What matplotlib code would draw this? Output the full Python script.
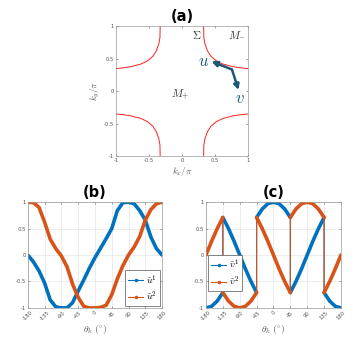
import matplotlib
matplotlib.use('Agg')
import matplotlib.pyplot as plt
from matplotlib.lines import Line2D
import numpy as np

plt.rcParams['mathtext.fontset'] = 'cm'
plt.rcParams['font.family'] = 'DejaVu Sans'

# ---- data ----
# (a) Fermi surface branch in the upper-right quadrant
fs_kx = [0.33, 0.333, 0.35, 0.39, 0.44, 0.52, 0.62, 0.77, 0.90, 1.00]
fs_ky = [1.00, 0.83, 0.73, 0.62, 0.54, 0.47, 0.42, 0.38, 0.36, 0.35]
arrow_origin = (0.76, 0.335)
arrow_u_tip = (0.45, 0.46)
arrow_v_tip = (0.86, 0.02)

# (b) u components vs theta_k
theta_b = [-180, -165, -150, -135, -120, -105, -90, -75, -60, -45, -30, -15, 0,
           15, 30, 45, 60, 75, 90, 105, 120, 135, 150, 165, 180]
u1 = [0, -0.13, -0.30, -0.53, -0.85, -0.98, -1.0, -1.0, -0.90, -0.68, -0.47, -0.25, -0.05,
      0.13, 0.31, 0.50, 0.84, 0.99, 1.0, 0.97, 0.84, 0.66, 0.34, 0.12, 0]
u2 = [1.0, 0.99, 0.90, 0.62, 0.30, 0.12, -0.02, -0.22, -0.55, -0.80, -0.97, -1.0, -1.0,
      -0.99, -0.95, -0.75, -0.45, -0.20, 0.0, 0.15, 0.35, 0.66, 0.86, 0.97, 1.0]

# (c) v components vs theta_k (jumps at +-45, +-135)
theta_c = [-180, -165, -150, -135, -135, -120, -105, -90, -75, -60, -45, -45, -30, -15, 0,
           15, 30, 45, 45, 60, 75, 90, 105, 120, 135, 135, 150, 165, 180]
v1 = [-1, -0.97, -0.87, -0.71, 0.71, 0.5, 0.26, 0, -0.26, -0.5, -0.71, 0.71, 0.87, 0.97, 1,
      0.97, 0.87, 0.71, -0.71, -0.5, -0.26, 0, 0.26, 0.5, 0.71, -0.71, -0.87, -0.97, -1]
v2 = [0, 0.26, 0.5, 0.71, -0.71, -0.87, -0.97, -1, -0.97, -0.87, -0.71, 0.71, 0.5, 0.26, 0,
      -0.26, -0.5, -0.71, 0.71, 0.87, 0.97, 1, 0.97, 0.87, 0.71, -0.71, -0.5, -0.26, 0]

theta_ticks = [-180, -135, -90, -45, 0, 45, 90, 135, 180]
blue = '#0072BD'
orange = '#D95319'
teal = '#1d5878'

fig = plt.figure(figsize=(3.57, 3.38), dpi=100)


def style_box(ax):
    for s in ax.spines.values():
        s.set_color('#9a9a9a')
        s.set_linewidth(0.5)
    ax.tick_params(direction='in', length=1.5, width=0.4, labelsize=3.8,
                   colors='#555555', pad=1.5, top=True, right=True,
                   labeltop=False, labelright=False)


# ---- (a) ----
ax1 = fig.add_axes([0.325, 0.538, 0.369, 0.384])
kx = np.array(fs_kx)
ky = np.array(fs_ky)
for sx in (1, -1):
    for sy in (1, -1):
        ax1.plot(sx * kx, sy * ky, color='#ff2020', lw=0.7)
ax1.set_xlim(-1, 1)
ax1.set_ylim(-1, 1)
ax1.set_xticks([-1, -0.5, 0, 0.5, 1])
ax1.set_yticks([-1, -0.5, 0, 0.5, 1])
ax1.set_xticklabels(['-1', '-0.5', '0', '0.5', '1'])
ax1.set_yticklabels(['-1', '-0.5', '0', '0.5', '1'])
style_box(ax1)
ax1.set_xlabel(r'$k_x/\pi$', fontsize=6.5, color='#555555', labelpad=1)
ax1.set_ylabel(r'$k_y/\pi$', fontsize=6.5, color='#555555', labelpad=1)
ax1.set_title('(a)', fontsize=10.5, fontweight='bold', pad=4)
ax1.text(0.22, 0.87, r'$\Sigma$', fontsize=8, color='#333333', ha='center', va='center')
ax1.text(0.84, 0.87, r'$M_{-}$', fontsize=8, color='#333333', ha='center', va='center')
ax1.text(-0.03, -0.05, r'$M_{+}$', fontsize=8, color='#333333', ha='center', va='center')
for tip in (arrow_u_tip, arrow_v_tip):
    ax1.annotate('', xy=tip, xytext=arrow_origin,
                 arrowprops=dict(arrowstyle='-|>', color=teal, lw=1.8,
                                 mutation_scale=8, shrinkA=0, shrinkB=0))
ax1.text(0.33, 0.46, r'$u$', fontsize=12, color=teal, ha='center', va='center')
ax1.text(0.885, -0.11, r'$v$', fontsize=12, color=teal, ha='center', va='center')


def thick_segments(ax, x, y, color):
    x = np.array(x, dtype=float)
    y = np.array(y, dtype=float)
    xs, ys = [x[0]], [y[0]]
    for i in range(1, len(x)):
        if x[i] == x[i - 1]:
            xs.append(np.nan)
            ys.append(np.nan)
        xs.append(x[i])
        ys.append(y[i])
    ax.plot(xs, ys, color=color, lw=2.6, solid_capstyle='round',
            solid_joinstyle='round')
    ax.plot(x, y, color=color, lw=0.8)


def style_theta(ax, title):
    ax.set_xlim(-180, 180)
    ax.set_ylim(-1, 1)
    ax.set_xticks(theta_ticks)
    ax.set_xticklabels([str(t) for t in theta_ticks], rotation=45)
    ax.set_yticks([-1, -0.5, 0, 0.5, 1])
    ax.set_yticklabels(['-1', '-0.5', '0', '0.5', '1'])
    ax.grid(True, color='#e4e4e4', lw=0.5)
    ax.set_axisbelow(True)
    style_box(ax)
    ax.set_xlabel(r'$\theta_k\ (^{\circ})$', fontsize=7, color='#555555', labelpad=1)
    ax.set_title(title, fontsize=10.5, fontweight='bold', pad=4)


# ---- (b) ----
ax2 = fig.add_axes([0.078, 0.089, 0.376, 0.313])
thick_segments(ax2, theta_b, u1, blue)
thick_segments(ax2, theta_b, u2, orange)
style_theta(ax2, '(b)')
hb = [Line2D([], [], color=blue, lw=0.8, marker='.', ms=3),
      Line2D([], [], color=orange, lw=0.8, marker='.', ms=3)]
leg = ax2.legend(hb, [r'$\tilde{u}^1$', r'$\tilde{u}^2$'], loc='lower right',
                 fontsize=7, fancybox=False, edgecolor='#555555', framealpha=1,
                 handlelength=1.6, handletextpad=0.3, borderpad=0.3,
                 labelspacing=0.3, borderaxespad=0.2)
leg.get_frame().set_linewidth(0.5)

# ---- (c) ----
ax3 = fig.add_axes([0.577, 0.089, 0.378, 0.313])
thick_segments(ax3, theta_c, v1, blue)
thick_segments(ax3, theta_c, v2, orange)
style_theta(ax3, '(c)')
leg = ax3.legend(hb, [r'$\tilde{v}^1$', r'$\tilde{v}^2$'], loc='upper left',
                 bbox_to_anchor=(0.0, 0.52), fontsize=7, fancybox=False,
                 edgecolor='#555555', framealpha=1, handlelength=1.6,
                 handletextpad=0.3, borderpad=0.3, labelspacing=0.3,
                 borderaxespad=0.2)
leg.get_frame().set_linewidth(0.5)

fig.savefig('out.png', dpi=100)
